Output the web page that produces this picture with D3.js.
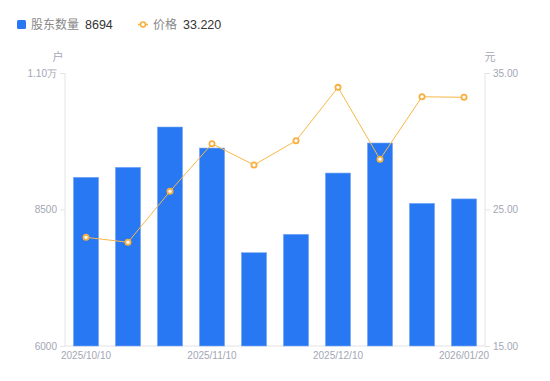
<!DOCTYPE html>
<html><head><meta charset="utf-8">
<script src="https://cdn.jsdelivr.net/npm/d3@7"></script>
<style>body{margin:0;background:#fff;font-family:"Noto Sans","Noto Sans CJK SC",sans-serif;}</style>
</head><body><svg id="c" width="550" height="381"></svg>
<script>
const dates = ["2025/10/10","2025/10/20","2025/10/31","2025/11/10","2025/11/20","2025/11/28","2025/12/10","2025/12/19","2025/12/31","2026/01/20"];
const holders = [9090, 9273, 10011, 9626, 7709, 8046, 9168, 9718, 8613, 8694];
const prices = [22.96, 22.60, 26.33, 29.82, 28.26, 30.04, 33.95, 28.68, 33.26, 33.22];
const shownDates = ["2025/10/10","2025/11/10","2025/12/10","2026/01/20"];
const leftTicks = [6000, 8500, 11000];
const rightTicks = [15, 25, 35];

const svg = d3.select("#c");
const L = 65, R = 485, T = 73, B = 346;
const x = d3.scaleBand().domain(dates).range([L, R]).paddingInner(0.4).paddingOuter(0.2);
const yL = d3.scaleLinear().domain([6000, 11000]).range([B, T]);
const yR = d3.scaleLinear().domain([15, 35]).range([B, T]);
const axisCol = "#e3e3e3", tickTxt = "#a3a6b4";
const numFont = "Liberation Sans, Arial, sans-serif";

// axes
const la = svg.append("g").attr("transform", `translate(${L},0)`)
  .call(d3.axisLeft(yL).tickValues(leftTicks).tickSize(5).tickPadding(3)
    .tickFormat(d => d >= 10000 ? (d/10000).toFixed(2) + "万" : d));
const ra = svg.append("g").attr("transform", `translate(${R},0)`)
  .call(d3.axisRight(yR).tickValues(rightTicks).tickSize(5).tickPadding(3).tickFormat(d => d.toFixed(2)));
const ba = svg.append("g").attr("transform", `translate(0,${B})`)
  .call(d3.axisBottom(x).tickValues(shownDates).tickSize(0).tickPadding(6));
[la, ra, ba].forEach(g => {
  g.selectAll(".domain").attr("stroke", axisCol);
  g.selectAll(".tick line").attr("stroke", axisCol);
  g.selectAll("text").attr("fill", tickTxt).attr("font-size", 10).attr("font-family", numFont);
});
la.select(".domain").attr("d", `M0,${T}V${B}`);
ra.select(".domain").attr("d", `M0,${T}V${B}`);
ba.select(".domain").attr("d", `M${L},0H${R}`);

// axis names
svg.append("text").attr("x", 58).attr("y", 61).attr("text-anchor", "middle").attr("font-size", 11).attr("fill", tickTxt).text("户");
svg.append("text").attr("x", 490).attr("y", 61).attr("text-anchor", "middle").attr("font-size", 11).attr("fill", tickTxt).text("元");

// bars
svg.append("g").selectAll("rect").data(dates).join("rect")
  .attr("x", d => x(d)).attr("width", x.bandwidth())
  .attr("y", (d, i) => yL(holders[i])).attr("height", (d, i) => B - yL(holders[i]))
  .attr("fill", "#2778f2").attr("stroke", "#7fabf5").attr("stroke-width", 0.6);

// line
const cx = d => x(d) + x.bandwidth() / 2;
svg.append("path").datum(dates)
  .attr("d", d3.line().x(d => cx(d)).y((d, i) => yR(prices[i])))
  .attr("fill", "none").attr("stroke", "#f8b848").attr("stroke-width", 1);
svg.append("g").selectAll("circle").data(dates).join("circle")
  .attr("cx", d => cx(d)).attr("cy", (d, i) => yR(prices[i])).attr("r", 2.6)
  .attr("fill", "#fff").attr("stroke", "#f8b040").attr("stroke-width", 1.8);

// legend
const lg = svg.append("g").attr("font-size", 12);
lg.append("rect").attr("x", 17).attr("y", 20).attr("width", 9).attr("height", 9).attr("rx", 1.5).attr("fill", "#2778f2");
lg.append("text").attr("x", 31).attr("y", 29).attr("fill", "#888").text("股东数量");
lg.append("text").attr("x", 85).attr("y", 29).attr("fill", "#333").attr("font-family", numFont).attr("font-size", 12.5).text(holders[holders.length - 1]);
lg.append("line").attr("x1", 138).attr("x2", 148).attr("y1", 24.5).attr("y2", 24.5).attr("stroke", "#f8b040").attr("stroke-width", 1.5);
lg.append("circle").attr("cx", 143).attr("cy", 24.5).attr("r", 2.5).attr("fill", "#fff").attr("stroke", "#f8b040").attr("stroke-width", 1.6);
lg.append("text").attr("x", 153).attr("y", 29).attr("fill", "#888").text("价格");
lg.append("text").attr("x", 183).attr("y", 29).attr("fill", "#333").attr("font-family", numFont).attr("font-size", 12.5).text(prices[prices.length - 1].toFixed(3));
</script></body></html>
